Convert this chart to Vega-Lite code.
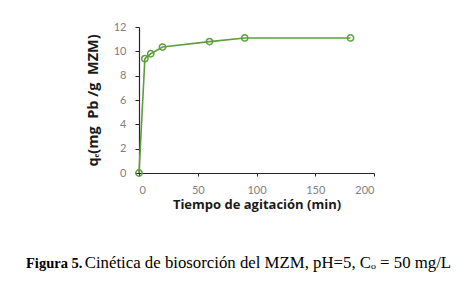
{
  "$schema": "https://vega.github.io/schema/vega-lite/v6.json",
  "autosize": {"type": "none"},
  "width": 235,
  "height": 146,
  "padding": {"left": 139, "top": 27, "right": 100, "bottom": 114},
  "background": "white",
  "title": {
    "text": "Figura 5.",
    "subtitle": "\u200b\u00a0\u00a0\u00a0\u00a0\u00a0\u00a0\u00a0\u00a0\u00a0\u00a0\u00a0\u00a0\u00a0 Cinética de biosorción del MZM, pH=5, Cₒ = 50 mg/L",
    "orient": "bottom",
    "anchor": "start",
    "frame": "group",
    "dx": -113,
    "offset": 46,
    "font": "Liberation Serif",
    "fontSize": 14.5,
    "fontWeight": "bold",
    "color": "black",
    "subtitleFont": "Liberation Serif",
    "subtitleFontSize": 16.8,
    "subtitleFontWeight": "normal",
    "subtitleColor": "black",
    "subtitlePadding": -16.5
  },
  "data": {
    "values": [
      {"t": 0, "q": 0},
      {"t": 5, "q": 9.4},
      {"t": 10, "q": 9.8},
      {"t": 20, "q": 10.35},
      {"t": 60, "q": 10.8},
      {"t": 90, "q": 11.1},
      {"t": 180, "q": 11.1}
    ]
  },
  "mark": {
    "type": "line",
    "color": "#5e9e3e",
    "strokeWidth": 1.6,
    "point": {"filled": false, "fill": "white", "fillOpacity": 0, "stroke": "#5e9e3e", "strokeWidth": 1.5, "size": 40}
  },
  "encoding": {
    "x": {
      "field": "t",
      "type": "quantitative",
      "scale": {"domain": [0, 200], "nice": false, "zero": true},
      "axis": {
        "title": "Tiempo de agitación (min)",
        "values": [0, 50, 100, 150, 200],
        "grid": false,
        "domainColor": "#262626",
        "domainWidth": 1.2,
        "tickColor": "#262626",
        "tickSize": 3,
        "labelFont": "Lato",
        "labelFontSize": 11,
        "labelColor": "#7f7f7f",
        "labelPadding": 8,
        "titleFont": "Open Sans",
        "titleFontSize": 13,
        "titleFontWeight": "bold",
        "titleColor": "#1a1a1a",
        "titlePadding": 3
      }
    },
    "y": {
      "field": "q",
      "type": "quantitative",
      "scale": {"domain": [0, 12], "nice": false},
      "axis": {
        "title": "qₑ(mg\u00a0 Pb /g\u00a0 MZM)",
        "values": [0, 2, 4, 6, 8, 10, 12],
        "grid": false,
        "domainColor": "#262626",
        "domainWidth": 1.2,
        "tickColor": "#262626",
        "tickSize": 4,
        "labelFont": "Lato",
        "labelFontSize": 11,
        "labelColor": "#7f7f7f",
        "labelPadding": 9,
        "titleFont": "Open Sans",
        "titleFontSize": 14.5,
        "titleFontWeight": "bold",
        "titleColor": "#1a1a1a",
        "titlePadding": 13
      }
    }
  },
  "config": {"view": {"stroke": null}}
}
